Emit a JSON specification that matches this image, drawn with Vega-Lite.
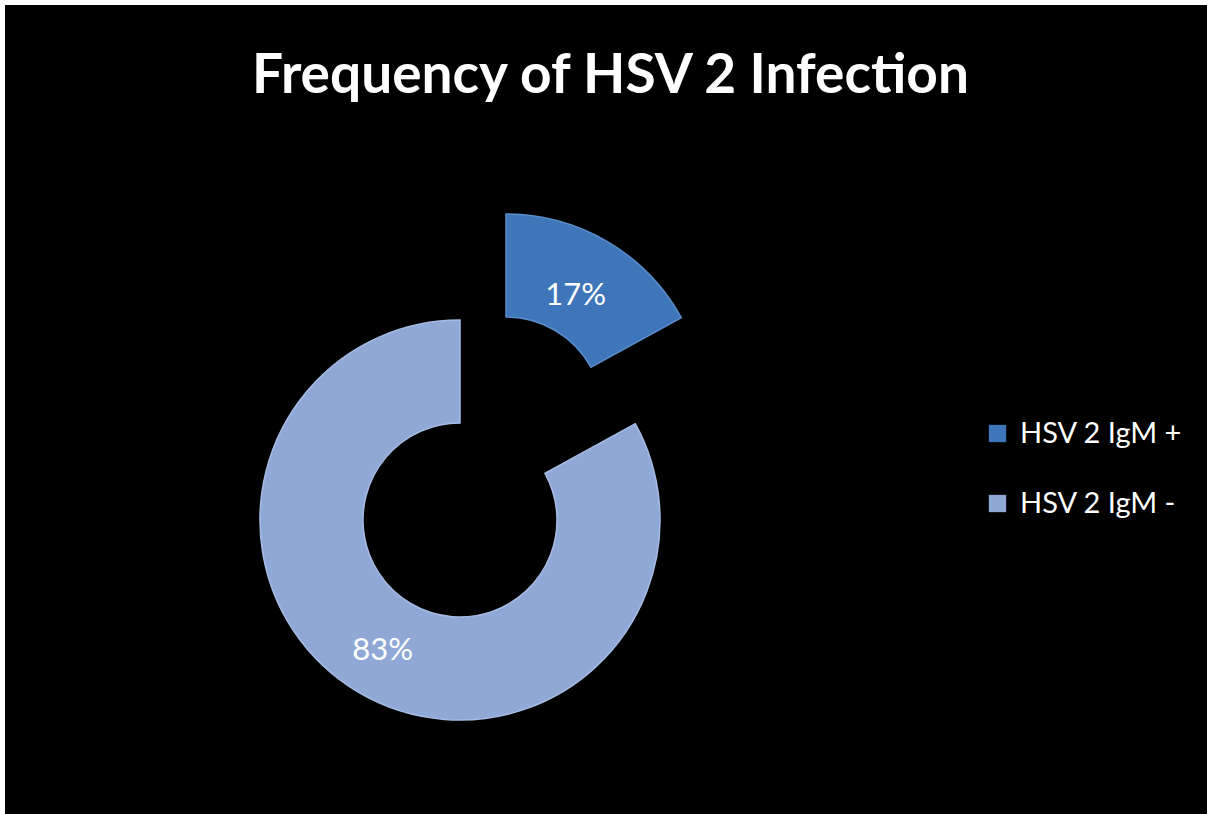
{
  "$schema": "https://vega.github.io/schema/vega-lite/v6.json",
  "width": 1300,
  "height": 900,
  "autosize": "none",
  "padding": {"left": 5, "top": 5, "right": 0, "bottom": 0},
  "background": "#ffffff",
  "view": {"fill": "#000000", "stroke": null, "strokeWidth": 0},
  "title": {
    "text": "Frequency of HSV 2 Infection",
    "font": "Lato",
    "fontSize": 55,
    "fontWeight": "bold",
    "color": "#ffffff",
    "anchor": "start",
    "frame": "group",
    "baseline": "alphabetic",
    "offset": -143,
    "dx": 247
  },
  "data": {
    "values": [
      {"category": "HSV 2 IgM +", "value": 17, "label": "17%"},
      {"category": "HSV 2 IgM -", "value": 83, "label": "83%"}
    ]
  },
  "transform": [
    {"stack": "value", "groupby": [], "sort": [{"field": "category", "order": "ascending"}], "as": ["v0", "v1"]},
    {"calculate": "(datum.v0 + datum.v1) / 2", "as": "vmid"}
  ],
  "layer": [
    {
      "transform": [{"filter": "datum.category === 'HSV 2 IgM +'"}],
      "layer": [
        {
          "mark": {"type": "arc", "outerRadius": 200, "innerRadius": 97, "xOffset": -149, "yOffset": -41, "stroke": "#5A8DCB", "strokeWidth": 1.5},
          "encoding": {
            "theta": {"field": "v0", "type": "quantitative", "scale": {"domain": [0, 100]}},
            "theta2": {"field": "v1"},
            "color": {
              "field": "category",
              "type": "nominal",
              "scale": {"domain": ["HSV 2 IgM +", "HSV 2 IgM -"], "range": ["#3F76B9", "#8FA8D6"]},
              "legend": {
                "orient": "none",
                "legendX": 978,
                "legendY": 414,
                "title": null,
                "padding": 0,
                "symbolType": "square",
                "symbolSize": 300,
                "symbolStrokeWidth": 0,
                "labelFont": "Lato",
                "labelFontSize": 29,
                "labelColor": "#ffffff",
                "labelOffset": 8,
                "labelLimit": 400,
                "rowPadding": 40
              }
            }
          }
        },
        {
          "mark": {"type": "text", "radius": 137, "xOffset": -149, "yOffset": -41, "font": "Lato", "fontSize": 31, "fill": "#ffffff", "align": "center", "baseline": "middle"},
          "encoding": {
            "theta": {"field": "vmid", "type": "quantitative", "scale": {"domain": [0, 100]}},
            "text": {"field": "label"}
          }
        }
      ]
    },
    {
      "transform": [{"filter": "datum.category === 'HSV 2 IgM -'"}],
      "layer": [
        {
          "mark": {"type": "arc", "outerRadius": 200, "innerRadius": 97, "xOffset": -195, "yOffset": 65, "stroke": "#A6BCE4", "strokeWidth": 1.5},
          "encoding": {
            "theta": {"field": "v0", "type": "quantitative", "scale": {"domain": [0, 100]}},
            "theta2": {"field": "v1"},
            "color": {"field": "category", "type": "nominal"}
          }
        },
        {
          "mark": {"type": "text", "radius": 152, "xOffset": -195, "yOffset": 65, "font": "Lato", "fontSize": 31, "fill": "#ffffff", "align": "center", "baseline": "middle"},
          "encoding": {
            "theta": {"field": "vmid", "type": "quantitative", "scale": {"domain": [0, 100]}},
            "text": {"field": "label"}
          }
        }
      ]
    }
  ]
}
